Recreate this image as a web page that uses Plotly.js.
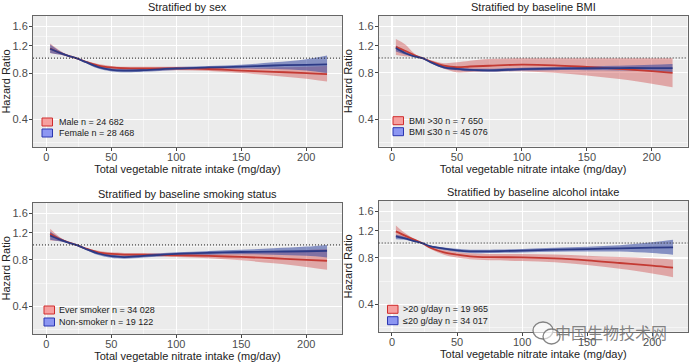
<!DOCTYPE html>
<html><head><meta charset="utf-8">
<script src="https://cdn.plot.ly/plotly-3.0.1.min.js"></script>
<style>html,body{margin:0;padding:0;background:#fff}#chart{width:696px;height:363px}</style>
</head><body><div id="chart"></div>
<script>
// ---- data ----
const intake = [3, 10, 17, 23, 30, 40, 50, 60, 75, 100, 125, 150, 175, 200, 216];
const xTicks = [0, 50, 100, 150, 200];
const yTicks = [0.4, 0.8, 1.2, 1.6];
const yTickText = ['0.4', '0.8', '1.2', '1.6'];

const panelTitles = ['Stratified by sex', 'Stratified by baseline BMI', 'Stratified by baseline smoking status', 'Stratified by baseline alcohol intake'];
const redNames = ['Male n = 24 682', 'BMI >30 n = 7 650', 'Ever smoker n = 34 028', '>20 g/day n = 19 965'];
const blueNames = ['Female n = 28 468', 'BMI \u226430 n = 45 076', 'Non-smoker n = 19 122', '\u226420 g/day n = 34 017'];

// Sex
const maleHR = [1.155, 1.088, 1.035, 1.0, 0.95, 0.895, 0.87, 0.86, 0.857, 0.857, 0.85, 0.83, 0.815, 0.80, 0.787];
const maleLo = [1.08, 1.055, 1.025, 1.0, 0.94, 0.875, 0.85, 0.84, 0.835, 0.835, 0.825, 0.80, 0.77, 0.735, 0.705];
const maleHi = [1.245, 1.125, 1.045, 1.0, 0.96, 0.915, 0.89, 0.88, 0.88, 0.88, 0.875, 0.865, 0.87, 0.88, 0.89];
const femaleHR = [1.15, 1.085, 1.033, 1.0, 0.945, 0.875, 0.84, 0.83, 0.836, 0.857, 0.87, 0.88, 0.896, 0.905, 0.91];
const femaleLo = [1.08, 1.055, 1.023, 1.0, 0.935, 0.855, 0.82, 0.81, 0.815, 0.838, 0.85, 0.855, 0.85, 0.83, 0.80];
const femaleHi = [1.225, 1.115, 1.043, 1.0, 0.955, 0.895, 0.86, 0.85, 0.858, 0.877, 0.89, 0.905, 0.94, 0.985, 1.04];

// BMI
const bmiHighHR = [1.18, 1.115, 1.046, 1.0, 0.947, 0.89, 0.87, 0.88, 0.89, 0.905, 0.896, 0.874, 0.85, 0.82, 0.80];
const bmiHighLo = [1.046, 1.025, 1.02, 1.0, 0.93, 0.85, 0.807, 0.81, 0.815, 0.82, 0.80, 0.77, 0.73, 0.68, 0.645];
const bmiHighHi = [1.33, 1.23, 1.075, 1.0, 0.965, 0.925, 0.937, 0.96, 0.985, 0.995, 0.995, 0.995, 0.995, 0.995, 0.995];
const bmiLowHR = [1.16, 1.077, 1.025, 1.0, 0.937, 0.87, 0.85, 0.836, 0.83, 0.845, 0.853, 0.857, 0.86, 0.86, 0.86];
const bmiLowLo = [1.10, 1.055, 1.018, 1.0, 0.925, 0.855, 0.832, 0.818, 0.812, 0.827, 0.833, 0.833, 0.83, 0.82, 0.81];
const bmiLowHi = [1.21, 1.10, 1.032, 1.0, 0.95, 0.885, 0.868, 0.855, 0.85, 0.865, 0.873, 0.882, 0.89, 0.905, 0.915];

// Smoking
const everHR = [1.18, 1.094, 1.04, 1.0, 0.95, 0.896, 0.874, 0.866, 0.866, 0.857, 0.849, 0.836, 0.82, 0.80, 0.79];
const everLo = [1.067, 1.06, 1.03, 1.0, 0.94, 0.876, 0.853, 0.845, 0.845, 0.835, 0.82, 0.795, 0.76, 0.72, 0.69];
const everHi = [1.27, 1.13, 1.05, 1.0, 0.96, 0.916, 0.895, 0.888, 0.888, 0.88, 0.88, 0.885, 0.9, 0.925, 0.94];
const neverHR = [1.15, 1.085, 1.035, 1.0, 0.945, 0.88, 0.845, 0.835, 0.85, 0.875, 0.89, 0.90, 0.905, 0.91, 0.915];
const neverLo = [1.08, 1.055, 1.025, 1.0, 0.935, 0.86, 0.825, 0.815, 0.83, 0.855, 0.865, 0.87, 0.865, 0.85, 0.83];
const neverHi = [1.22, 1.115, 1.045, 1.0, 0.955, 0.90, 0.865, 0.855, 0.87, 0.895, 0.915, 0.93, 0.95, 0.975, 1.0];

// Alcohol
const alcHighHR = [1.19, 1.116, 1.051, 1.0, 0.928, 0.87, 0.84, 0.82, 0.81, 0.807, 0.795, 0.772, 0.742, 0.713, 0.692];
const alcHighLo = [1.094, 1.075, 1.035, 1.0, 0.91, 0.84, 0.805, 0.785, 0.773, 0.765, 0.75, 0.72, 0.68, 0.635, 0.60];
const alcHighHi = [1.30, 1.16, 1.067, 1.0, 0.945, 0.90, 0.875, 0.857, 0.848, 0.85, 0.843, 0.828, 0.81, 0.795, 0.78];
const alcLowHR = [1.105, 1.072, 1.03, 1.0, 0.95, 0.919, 0.896, 0.883, 0.883, 0.892, 0.905, 0.914, 0.923, 0.933, 0.937];
const alcLowLo = [1.06, 1.05, 1.02, 1.0, 0.94, 0.902, 0.875, 0.862, 0.86, 0.868, 0.878, 0.882, 0.88, 0.86, 0.84];
const alcLowHi = [1.13, 1.095, 1.04, 1.0, 0.96, 0.936, 0.918, 0.905, 0.906, 0.916, 0.932, 0.947, 0.968, 1.01, 1.05];

const seriesByPanel = [
  [[maleHR, maleLo, maleHi], [femaleHR, femaleLo, femaleHi]],
  [[bmiHighHR, bmiHighLo, bmiHighHi], [bmiLowHR, bmiLowLo, bmiLowHi]],
  [[everHR, everLo, everHi], [neverHR, neverLo, neverHi]],
  [[alcHighHR, alcHighLo, alcHighHi], [alcLowHR, alcLowLo, alcLowHi]]
];

// ---- styling ----
const RED_LINE = '#C43A33', RED_FILL = 'rgba(208,72,72,0.42)';
const BLUE_LINE = '#2C3A86', BLUE_FILL = 'rgba(50,70,160,0.55)';
const KEY_RED = ['#F6A0A0', '#D02C2C'], KEY_BLUE = ['#8C96F2', '#2A36B0'];
const FONT = 'Liberation Sans, Arial, sans-serif';
const W = 696, H = 363;
// panel boxes in pixels [left, right, top, bottom]
const boxes = [[33, 342, 16, 147], [378.7, 687.5, 16, 146.5], [33, 342, 202.7, 334], [378.7, 688, 201, 331.7]];
// legend key placement in pixels: [keyLeft, textLeft, row1CenterY, row2CenterY]
const keys = [[42, 57, 122, 133], [393, 407, 120.7, 131.7], [44, 57, 310, 322], [387.5, 400.5, 309.3, 320.7]];

const traces = [];
const layout = {
  width: W, height: H, margin: {l: 0, r: 0, t: 0, b: 0},
  paper_bgcolor: '#ffffff', plot_bgcolor: '#EBEBEB',
  font: {family: FONT, color: '#222'},
  showlegend: false, annotations: [], shapes: []
};
const px = v => v / W, py = v => 1 - v / H;

boxes.forEach((b, i) => {
  const n = i === 0 ? '' : String(i + 1);
  const xa = 'x' + n, ya = 'y' + n;
  const xd = [px(b[0]), px(b[1])], yd = [py(b[3]), py(b[2])];
  layout['xaxis' + n] = {
    domain: xd, anchor: ya, range: [-10.2, 227.5], tickvals: xTicks,
    ticks: 'outside', ticklen: 3, tickcolor: '#444', tickwidth: 1,
    tickfont: {size: 11, color: '#4d4d4d', family: FONT}, ticklabelstandoff: -3,
    showgrid: true, gridcolor: '#ffffff', gridwidth: 1.1,
    minor: {tickvals: [25, 75, 125, 175], showgrid: true, gridcolor: '#ffffff', gridwidth: 0.5},
    showline: true, mirror: true, linecolor: '#666', linewidth: 1, zeroline: false,
    title: {text: 'Total vegetable nitrate intake (mg/day)', font: {size: 11, color: '#222', family: FONT}, standoff: 0},
    fixedrange: true
  };
  layout['yaxis' + n] = {
    domain: yd, anchor: xa, type: 'log', range: [-0.576, 0.273],
    tickvals: yTicks, ticktext: yTickText,
    ticks: 'outside', ticklen: 3, tickcolor: '#444', tickwidth: 1,
    tickfont: {size: 11, color: '#4d4d4d', family: FONT}, ticklabelstandoff: -1,
    showgrid: true, gridcolor: '#ffffff', gridwidth: 1.1,
    minor: {tickvals: [0.283, 0.566, 0.98, 1.386, 1.848], showgrid: true, gridcolor: '#ffffff', gridwidth: 0.5},
    showline: true, mirror: true, linecolor: '#666', linewidth: 1, zeroline: false,
    title: {text: 'Hazard Ratio', font: {size: 11, color: '#222', family: FONT}, standoff: 3},
    fixedrange: true
  };
  // reference line at HR = 1
  layout.shapes.push({type: 'line', xref: xa + ' domain', yref: ya, x0: 0, x1: 1, y0: 1, y1: 1,
    line: {color: '#222', width: 1, dash: '1px,2px'}, layer: 'above'});
  // panel title
  layout.annotations.push({text: panelTitles[i], xref: xa + ' domain', yref: ya + ' domain', x: 0.5, y: 1,
    xanchor: 'center', yanchor: 'bottom', yshift: 1, showarrow: false, font: {size: 11, color: '#222', family: FONT}});

  const cols = [[RED_LINE, RED_FILL], [BLUE_LINE, BLUE_FILL]];
  seriesByPanel[i].forEach((s, k) => {
    traces.push({x: intake, y: s[1], xaxis: xa, yaxis: ya, mode: 'lines', line: {width: 0, shape: 'spline'},
      hoverinfo: 'skip'});
    traces.push({x: intake, y: s[2], xaxis: xa, yaxis: ya, mode: 'lines', line: {width: 0, shape: 'spline'},
      fill: 'tonexty', fillcolor: cols[k][1], hoverinfo: 'skip'});
  });
  seriesByPanel[i].forEach((s, k) => {
    traces.push({x: intake, y: s[0], xaxis: xa, yaxis: ya, mode: 'lines',
      line: {width: 1.8, color: cols[k][0], shape: 'spline'}});
  });
  // legend keys (inside panel, bottom-left)
  const kk = keys[i];
  [[redNames[i], KEY_RED, kk[2]], [blueNames[i], KEY_BLUE, kk[3]]].forEach(([label, c, cy]) => {
    layout.shapes.push({type: 'rect', xref: 'paper', yref: 'paper', x0: px(kk[0]), x1: px(kk[0] + 10.5),
      y0: py(cy + 4), y1: py(cy - 4), fillcolor: c[0], line: {color: c[1], width: 1}, layer: 'above'});
    layout.annotations.push({text: label, xref: 'paper', yref: 'paper', x: px(kk[1]), y: py(cy),
      xanchor: 'left', yanchor: 'middle', showarrow: false, font: {size: 9, color: '#222', family: FONT}});
  });
});

// watermark
layout.annotations.push({text: '\u4e2d\u56fd\u751f\u7269\u6280\u672f\u7f51', xref: 'paper', yref: 'paper',
  x: 611 / W, y: 1 - 332 / H, xanchor: 'center', yanchor: 'middle', showarrow: false,
  font: {size: 16, color: 'rgba(110,110,110,0.85)', family: 'Noto Sans CJK SC'}});
layout.shapes.push({type: 'circle', xref: 'paper', yref: 'paper', x0: 533 / W, x1: 553 / W, y0: 1 - 339 / H, y1: 1 - 322 / H,
  line: {color: 'rgba(110,110,110,0.85)', width: 1.3}, fillcolor: 'rgba(255,255,255,0.6)', layer: 'above'});
layout.shapes.push({type: 'circle', xref: 'paper', yref: 'paper', x0: 543 / W, x1: 560 / W, y0: 1 - 344 / H, y1: 1 - 329 / H,
  line: {color: 'rgba(110,110,110,0.85)', width: 1.3}, fillcolor: 'rgba(255,255,255,0.6)', layer: 'above'});

Plotly.newPlot('chart', traces, layout, {staticPlot: true, displayModeBar: false});
</script></body></html>
